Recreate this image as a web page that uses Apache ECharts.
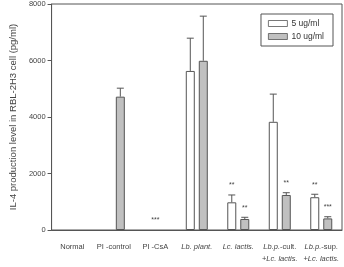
<!DOCTYPE html>
<html>
<head>
<meta charset="utf-8">
<script src="https://cdn.jsdelivr.net/npm/echarts@6/dist/echarts.min.js"></script>
<style>
  html, body { margin: 0; padding: 0; background: #fff; }
  #main { width: 344px; height: 267px; }
</style>
</head>
<body>
<div id="main"></div>
<script>
// groups on the x axis
const categories = ['Normal', 'PI -control', 'PI -CsA', 'Lb. plant.', 'Lc. lactis.', 'Lb.p.-cult.', 'Lb.p.-sup.'];
// tick labels, with the italic species names
const tickLabels = [
  'Normal', 'PI -control', 'PI -CsA', '{i|Lb. plant.}', '{i|Lc. lactis.}',
  '{i|Lb.p.}-cult.\n+{i|Lc. lactis.}', '{i|Lb.p.}-sup.\n+{i|Lc. lactis.}'
];
const yTicks = [0, 2000, 4000, 6000, 8000];

// IL-4 (pg/ml), mean and upper error
const dose5 = ['-', '-', '-', 5630, 980, 3830, 1160];
const err5 = [null, null, null, 1160, 260, 980, 105];
const dose10 = ['-', 4720, '-', 5990, 390, 1240, 410];
const err10 = [null, 300, null, 1580, 60, 80, 60];

// significance marks
const sig5 = ['', '', '', '', '**', '', '**'];
const sig10 = ['', '', '', '', '**', '**', '***'];
const sigGroup = ['', '', '***', '', '', '', ''];

const BAR_W = 9;
const BAR_GAP = 4;
const dark = '#555';
const txt = '#444';

function errorSeries(vals, errs, sigs, side) {
  return {
    type: 'custom',
    silent: true,
    z: 5,
    data: vals.map((v, i) => [i, v === '-' ? 0 : v, errs[i] || 0]),
    renderItem: function (params, api) {
      const i = api.value(0);
      const v = api.value(1);
      const e = api.value(2);
      const s = sigs[i];
      const off = side * (BAR_W + BAR_GAP) / 2;
      const base = api.coord([i, v]);
      const top = api.coord([i, v + e]);
      const x = base[0] + off;
      const kids = [];
      if (e > 0) {
        kids.push({ type: 'line', shape: { x1: x, y1: base[1], x2: x, y2: top[1] }, style: { stroke: dark, lineWidth: 1 } });
        kids.push({ type: 'line', shape: { x1: x - 3.5, y1: top[1], x2: x + 3.5, y2: top[1] }, style: { stroke: dark, lineWidth: 1 } });
      }
      if (s) {
        kids.push({ type: 'text', x: x, y: top[1] - 6, style: { text: s, fill: txt, font: '7px "Liberation Sans", Arial', align: 'center', verticalAlign: 'bottom' } });
      }
      return { type: 'group', children: kids };
    }
  };
}

const option = {
  animation: false,
  textStyle: { fontFamily: '"Liberation Sans", Arial, sans-serif' },
  grid: { left: 45, right: 2, top: 4, bottom: 37, show: true, borderColor: dark, borderWidth: 1 },
  legend: {
    orient: 'vertical',
    right: 11,
    top: 14,
    icon: 'rect',
    itemWidth: 19,
    itemHeight: 6,
    itemGap: 4,
    padding: [5, 9, 5, 7],
    borderColor: dark,
    borderWidth: 1,
    itemStyle: { borderWidth: 0.8 },
    textStyle: { fontSize: 8.5, color: '#333', padding: [0, 0, 0, -1] },
    data: ['5 ug/ml', '10 ug/ml']
  },
  xAxis: {
    type: 'category',
    data: categories,
    axisLine: { lineStyle: { color: dark } },
    axisTick: { length: 4, lineStyle: { color: dark } },
    axisLabel: {
      interval: 0,
      margin: 11,
      fontSize: 7.5,
      color: txt,
      lineHeight: 12,
      formatter: (v, i) => tickLabels[i],
      rich: { i: { fontStyle: 'italic', fontSize: 7.5, color: txt, lineHeight: 12 } }
    }
  },
  yAxis: {
    type: 'value',
    min: yTicks[0],
    max: yTicks[yTicks.length - 1],
    interval: 2000,
    name: 'IL-4 production level in RBL-2H3 cell (pg/ml)',
    nameLocation: 'middle',
    nameGap: 32,
    nameTextStyle: { fontSize: 9.5, color: txt },
    axisLine: { show: true, lineStyle: { color: dark } },
    axisTick: { show: true, length: 4, lineStyle: { color: dark } },
    splitLine: { show: false },
    axisLabel: { fontSize: 7.5, color: txt, margin: 6, formatter: v => String(v) }
  },
  series: [
    {
      name: '5 ug/ml',
      type: 'bar',
      data: dose5,
      barWidth: BAR_W,
      barGap: (BAR_GAP / BAR_W * 100) + '%',
      itemStyle: { color: '#fff', borderColor: dark, borderWidth: 1 }
    },
    {
      name: '10 ug/ml',
      type: 'bar',
      data: dose10,
      barWidth: BAR_W,
      itemStyle: { color: '#c0c0c0', borderColor: dark, borderWidth: 1 }
    },
    errorSeries(dose5, err5, sig5, -1),
    errorSeries(dose10, err10, sig10, 1),
    errorSeries(dose10.map(() => 0), dose10.map(() => 0), sigGroup, 0)
  ]
};

const chart = echarts.init(document.getElementById('main'));
chart.setOption(option);
</script>
</body>
</html>
